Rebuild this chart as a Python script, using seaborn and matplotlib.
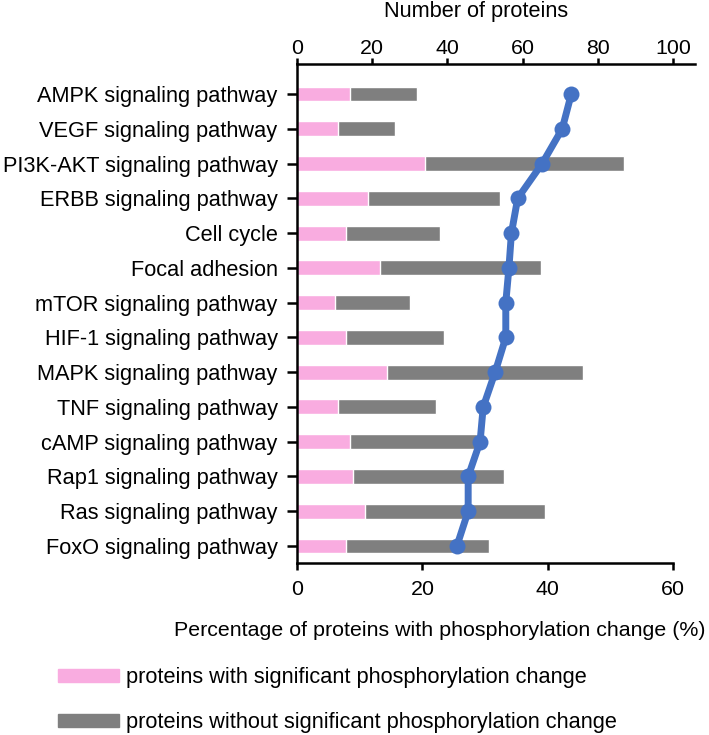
import matplotlib
matplotlib.use("Agg")
import matplotlib.pyplot as plt
import matplotlib.patches as mpatches
import seaborn as sns
import pandas as pd
import numpy as np

pathways = ["AMPK signaling pathway", "VEGF signaling pathway", "PI3K-AKT signaling pathway",
            "ERBB signaling pathway", "Cell cycle", "Focal adhesion", "mTOR signaling pathway",
            "HIF-1 signaling pathway", "MAPK signaling pathway", "TNF signaling pathway",
            "cAMP signaling pathway", "Rap1 signaling pathway", "Ras signaling pathway",
            "FoxO signaling pathway"]
significant = [14, 11, 34, 19, 13, 22, 10, 13, 24, 11, 14, 15, 18, 13]
total = [32, 26, 87, 54, 38, 65, 30, 39, 76, 37, 48, 55, 66, 51]
percentage = [43.75, 42.3, 39.1, 35.2, 34.2, 33.8, 33.3, 33.3, 31.6, 29.7, 29.2, 27.3, 27.3, 25.5]
count_ticks = [0, 20, 40, 60, 80, 100]
pct_ticks = [0, 20, 40, 60]

PINK = "#F9ACE0"
GRAY = "#7F7F7F"
BLUE = "#4472C4"

sns.set_style("white")
plt.rcParams["font.family"] = ["Liberation Sans", "DejaVu Sans"]
plt.rcParams["text.color"] = "black"
plt.rcParams["xtick.color"] = "black"
plt.rcParams["ytick.color"] = "black"
plt.rcParams["axes.labelcolor"] = "black"

FS = 15.7
FS_X = 15.4

df = pd.DataFrame({"pathway": pathways, "sig": significant, "total": total, "pct": percentage,
                   "pos": np.arange(len(pathways))})

W, H = 709, 735
fig = plt.figure(figsize=(W / 100, H / 100), dpi=100)
ax = fig.add_axes([297 / W, 1 - 563 / H, (695 - 297) / W, (563 - 64) / H])
ax2 = ax.twiny()

# bars (number of proteins, top axis)
sns.barplot(data=df, x="total", y="pathway", orient="h", color=GRAY, width=0.43,
            saturation=1, ax=ax, order=pathways)
sns.barplot(data=df, x="sig", y="pathway", orient="h", color=PINK, width=0.43,
            saturation=1, ax=ax, order=pathways)

# line (percentage, bottom axis)
sns.lineplot(data=df, x="pct", y="pos", orient="y", sort=False, color=BLUE, lw=5,
             marker="o", markersize=11.5, markeredgewidth=0, ax=ax2)

ax.set_xlim(0, 398 / 3.76)
ax.set_xticks(count_ticks)
ax.xaxis.tick_top()
ax.set_xlabel("")
ax.set_ylabel("")
ax.tick_params(axis="x", top=True, bottom=False, labeltop=True, labelbottom=False,
               direction="out", length=4, width=1.8, labelsize=FS_X, pad=0)
ax.tick_params(axis="y", left=True, direction="out", length=7, width=1.8, labelsize=FS, pad=7)
for s in ["right", "bottom"]:
    ax.spines[s].set_visible(False)
for s in ["top", "left"]:
    ax.spines[s].set_linewidth(1.8)
    ax.spines[s].set_color("black")

ax2.set_xlim(0, 398 / 6.27)
ax2.set_xticks(pct_ticks)
ax2.xaxis.tick_bottom()
ax2.set_xlabel("")
ax2.set_ylabel("")
ax2.tick_params(axis="x", bottom=True, top=False, labelbottom=True, labeltop=False,
                direction="out", length=5, width=1.8, labelsize=FS_X, pad=7)
for s in ["top", "right", "left"]:
    ax2.spines[s].set_visible(False)
ax2.spines["bottom"].set_bounds(0, 60)
ax2.spines["bottom"].set_linewidth(1.8)
ax2.spines["bottom"].set_color("black")

ax.set_ylim(13 + 17 / 34.77, -30 / 34.77)

fig.text(476 / W, 1 - 11 / H, "Number of proteins", ha="center", va="center", fontsize=FS)
fig.text(706 / W, 1 - 631 / H, "Percentage of proteins with phosphorylation change (%)",
         ha="right", va="center", fontsize=FS_X)

handles = [mpatches.Patch(color=PINK, label="proteins with significant phosphorylation change"),
           mpatches.Patch(color=GRAY, label="proteins without significant phosphorylation change")]
fig.legend(handles=handles, loc="upper left", bbox_to_anchor=(58 / W, 1 - 667 / H),
           frameon=False, fontsize=FS, handlelength=2.8, handleheight=0.55,
           handletextpad=0.3, labelspacing=1.1, borderpad=0, borderaxespad=0)

fig.savefig("out.png", dpi=100)
